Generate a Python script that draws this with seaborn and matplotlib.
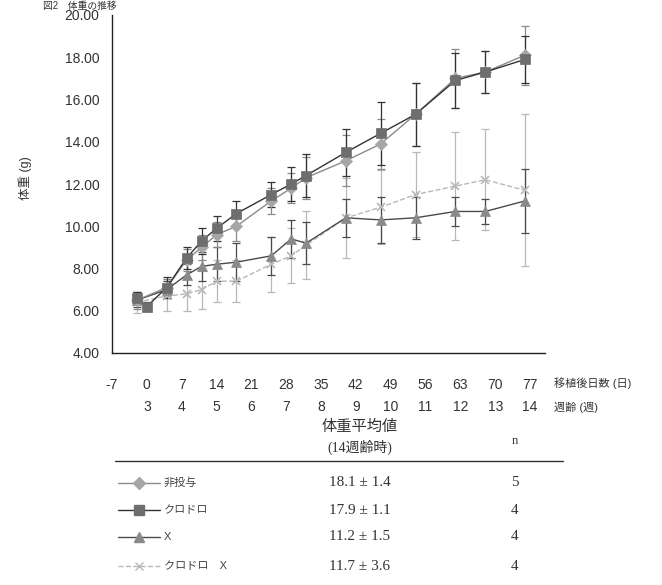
import numpy as np
import matplotlib.pyplot as plt
import seaborn as sns
from matplotlib.lines import Line2D

# data (day after transplant, mean body weight, SD)
days_ctrl = [-2, 4, 8, 11, 14, 18, 25, 29, 32, 40, 47, 54, 62, 68, 76]
mean_ctrl = [6.5, 7.1, 8.4, 9.0, 9.6, 10.0, 11.2, 11.8, 12.3, 13.1, 13.9, 15.3, 17.0, 17.3, 18.1]
sd_ctrl = [0.4, 0.4, 0.5, 0.6, 0.6, 0.7, 0.6, 0.7, 1.0, 1.2, 1.2, 1.5, 1.4, 1.0, 1.4]

days_clo = [-2, 0, 4, 8, 11, 14, 18, 25, 29, 32, 40, 47, 54, 62, 68, 76]
mean_clo = [6.6, 6.2, 7.1, 8.5, 9.3, 9.9, 10.6, 11.5, 12.0, 12.4, 13.5, 14.4, 15.3, 16.9, 17.3, 17.9]
sd_clo = [0.3, 0.2, 0.5, 0.5, 0.6, 0.6, 0.6, 0.6, 0.8, 1.0, 1.1, 1.5, 1.5, 1.3, 1.0, 1.1]

days_x = [-2, 4, 8, 11, 14, 18, 25, 29, 32, 40, 47, 54, 62, 68, 76]
mean_x = [6.5, 7.0, 7.7, 8.1, 8.2, 8.3, 8.6, 9.4, 9.2, 10.4, 10.3, 10.4, 10.7, 10.7, 11.2]
sd_x = [0.3, 0.4, 0.5, 0.7, 0.8, 0.9, 0.9, 0.9, 1.0, 0.9, 1.1, 1.0, 0.7, 0.6, 1.5]

days_clox = [-2, 4, 8, 11, 14, 18, 25, 29, 32, 40, 47, 54, 62, 68, 76]
mean_clox = [6.4, 6.7, 6.8, 7.0, 7.4, 7.4, 8.2, 8.6, 9.1, 10.4, 10.9, 11.5, 11.9, 12.2, 11.7]
sd_clox = [0.5, 0.7, 0.8, 0.9, 1.0, 1.0, 1.3, 1.3, 1.6, 1.9, 1.75, 2.0, 2.55, 2.4, 3.6]

group_names = ['非投与', 'クロドロ', 'X', 'クロドロ　X']
summary_vals = ['18.1 ± 1.4', '17.9 ± 1.1', '11.2 ± 1.5', '11.7 ± 3.6']
summary_n = ['5', '4', '4', '4']

day_ticks = [-7, 0, 7, 14, 21, 28, 35, 42, 49, 56, 63, 70, 77]
week_ticks = [0, 7, 14, 21, 28, 35, 42, 49, 56, 63, 70, 77]
week_labels = ['3', '4', '5', '6', '7', '8', '9', '10', '11', '12', '13', '14']

sns.set_theme(style='white')
plt.rcParams['font.family'] = ['Liberation Sans', 'Noto Sans CJK JP', 'DejaVu Sans']

W, H = 662, 585
fig = plt.figure(figsize=(W / 100, H / 100), dpi=100)
ax = fig.add_axes([112 / W, 1 - 353 / H, 433 / W, 338 / H])

def px(x, y):
    return x / W, 1 - y / H

styles = [
    dict(days=days_clox, mean=mean_clox, sd=sd_clox, color='#b8b8b8', mfc='#c4c4c4', marker='x', ms=6, ls='--'),
    dict(days=days_x, mean=mean_x, sd=sd_x, color='#4a4a4a', mfc='#8a8a8a', marker='^', ms=7, ls='-'),
    dict(days=days_ctrl, mean=mean_ctrl, sd=sd_ctrl, color='#8a8a8a', mfc='#a6a6a6', marker='D', ms=6, ls='-'),
    dict(days=days_clo, mean=mean_clo, sd=sd_clo, color='#333333', mfc='#6e6e6e', marker='s', ms=7, ls='-'),
]

for s in styles:
    ax.errorbar(s['days'], s['mean'], yerr=s['sd'], fmt='none', ecolor=s['color'],
                elinewidth=0.9, capsize=3, capthick=0.9, zorder=2)
    sns.lineplot(x=s['days'], y=s['mean'], ax=ax, color=s['color'], linestyle=s['ls'],
                 linewidth=1.0, marker=s['marker'], markersize=s['ms'],
                 markerfacecolor=s['mfc'], markeredgecolor=s['color'] if s['marker'] == 'x' else s['mfc'],
                 markeredgewidth=1.2 if s['marker'] == 'x' else 0.5, zorder=3)

ax.set_xlim(-7, 80)
ax.set_ylim(4, 20)
ax.set_yticks(np.arange(4, 20.1, 2))
ax.set_yticklabels(['%.2f' % v for v in np.arange(4, 20.1, 2)], fontsize=10, color='#333333')
ax.set_xticks(day_ticks)
ax.set_xticklabels([str(d) for d in day_ticks], fontsize=10, color='#333333')
ax.tick_params(axis='x', direction='in', length=3, pad=18, color='#333333')
ax.tick_params(axis='y', direction='in', length=3, pad=9, color='#333333')
ax.set_xlabel('')
ax.set_ylabel('')
sns.despine(ax=ax)
for sp in ['left', 'bottom']:
    ax.spines[sp].set_color('#222222')
    ax.spines[sp].set_linewidth(1.0)

xt = ax.get_xaxis_transform()
for d, lab in zip(week_ticks, week_labels):
    ax.text(d, -54 / 338, lab, transform=xt, ha='center', va='center', fontsize=10, color='#333333')
ax.text(1.02, -30 / 338, '移植後日数 (日)', transform=ax.transAxes, ha='left', va='center', fontsize=8, color='#333333')
ax.text(1.02, -54 / 338, '週齢 (週)', transform=ax.transAxes, ha='left', va='center', fontsize=8, color='#333333')

fig.text(*px(25, 178), '体重 (g)', rotation=90, ha='center', va='center', fontsize=9, color='#333333')
fig.text(*px(43, 1), '図2　体重の推移', ha='left', va='top', fontsize=7, color='#333333')

# summary table under the chart
serif = ['Liberation Serif', 'Noto Sans CJK JP']
fig.text(*px(360, 427), '体重平均値', ha='center', va='center', fontsize=11, family=serif, color='#333333')
fig.text(*px(360, 447), '(14週齢時)', ha='center', va='center', fontsize=10, family=serif, color='#333333')
fig.text(*px(515, 441), 'n', ha='center', va='center', fontsize=9, family=serif, color='#333333')
fig.add_artist(Line2D([115 / W, 563 / W], [1 - 461 / H, 1 - 461 / H], transform=fig.transFigure,
                      color='#333333', lw=1.0))

row_y = [483, 510, 537, 566]
legend_order = [styles[2], styles[3], styles[1], styles[0]]
for y, s, name, val, n in zip(row_y, legend_order, group_names, summary_vals, summary_n):
    yy = 1 - y / H
    fig.add_artist(Line2D([118 / W, 139 / W, 160 / W], [yy, yy, yy], transform=fig.transFigure,
                          color=s['color'], lw=1.0, ls=s['ls'], marker=s['marker'], markevery=[1],
                          markersize=s['ms'], markerfacecolor=s['mfc'],
                          markeredgecolor=s['color'] if s['marker'] == 'x' else s['mfc']))
    fig.text(*px(164, y), name, ha='left', va='center', fontsize=8, color='#444444')
    fig.text(*px(360, y), val, ha='center', va='center', fontsize=11, family=serif, color='#333333')
    fig.text(*px(515, y), n, ha='center', va='center', fontsize=11, family=serif, color='#333333')

fig.savefig('out.png', dpi=100, facecolor='white')
